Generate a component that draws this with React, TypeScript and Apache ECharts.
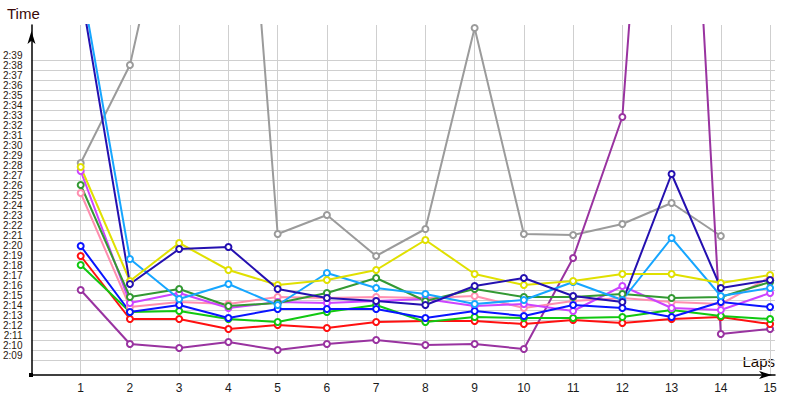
import React, { useEffect, useRef } from "react";
import * as echarts from "echarts";

// Lap numbers on the x axis
const laps = [1, 2, 3, 4, 5, 6, 7, 8, 9, 10, 11, 12, 13, 14, 15];
// Y tick values, in seconds (2:09 ... 2:39)
const timeTicks = [129, 130, 131, 132, 133, 134, 135, 136, 137, 138, 139, 140, 141, 142, 143, 144, 145, 146, 147, 148, 149, 150, 151, 152, 153, 154, 155, 156, 157, 158, 159];

// Lap times in seconds
const grayTimes = [148.7, 158.5, 180.4, 205.0, 141.6, 143.5, 139.4, 142.1, 162.2, 141.6, 141.5, 142.6, 144.7, 141.4, null];
const yellowTimes = [148.3, 136.9, 140.7, 138.0, 136.5, 137.0, 138.0, 141.0, 137.6, 136.5, 136.9, 137.6, 137.6, 136.7, 137.5];
const violetTimes = [147.9, 134.7, 135.7, 134.2, 134.8, 134.7, 134.9, 135.1, 134.4, 134.6, 133.9, 136.4, 134.2, 134.0, 135.7];
const darkGreenTimes = [146.5, 135.3, 136.1, 134.4, 134.7, 135.7, 137.2, 134.9, 136.1, 135.3, 135.3, 135.6, 135.2, 135.3, 136.8];
const pinkTimes = [145.7, 134.3, 134.8, 134.6, 135.3, 135.2, 135.3, 135.2, 135.4, 134.2, 134.9, 135.2, 134.8, 134.6, 137.3];
const navyTimes = [166.0, 136.6, 140.1, 140.3, 136.1, 135.2, 134.9, 134.5, 136.4, 137.2, 135.4, 134.8, 147.6, 136.2, 137.0];
const lightBlueTimes = [167.1, 139.1, 135.1, 136.6, 134.5, 137.7, 136.2, 135.6, 134.6, 135.0, 136.8, 135.0, 141.2, 135.4, 136.2];
const blueTimes = [140.4, 133.8, 134.5, 133.2, 134.1, 134.1, 134.1, 133.2, 133.9, 133.4, 134.5, 134.2, 133.3, 134.8, 134.3];
const greenTimes = [138.5, 133.8, 133.9, 133.1, 132.8, 133.8, 134.5, 132.8, 133.3, 133.2, 133.2, 133.3, 134.0, 133.4, 133.1];
const redTimes = [139.4, 133.1, 133.1, 132.1, 132.5, 132.2, 132.8, 132.9, 132.9, 132.6, 133.0, 132.7, 133.1, 133.3, 132.6];
const purpleTimes = [136.0, 130.6, 130.2, 130.8, 130.0, 130.6, 131.0, 130.5, 130.6, 130.1, 139.2, 153.3, 219.5, 131.6, 132.1];

const seriesDefs = [
  { name: "Gray", color: "#9b9b9b", data: grayTimes },
  { name: "Purple", color: "#9933a0", data: purpleTimes },
  { name: "Red", color: "#ff1010", data: redTimes },
  { name: "Green", color: "#11c811", data: greenTimes },
  { name: "Pink", color: "#ff8fb0", data: pinkTimes },
  { name: "Violet", color: "#cc44ff", data: violetTimes },
  { name: "DarkGreen", color: "#339933", data: darkGreenTimes },
  { name: "Blue", color: "#0a14ff", data: blueTimes },
  { name: "LightBlue", color: "#16a6ff", data: lightBlueTimes },
  { name: "Yellow", color: "#e0e000", data: yellowTimes },
  { name: "Navy", color: "#2410b0", data: navyTimes },
];

const fmt = (v: number) => {
  const m = Math.floor(v / 60);
  const s = Math.round(v - m * 60);
  return m + ":" + String(s).padStart(2, "0");
};

export default function App() {
  const ref = useRef<HTMLDivElement>(null);
  useEffect(() => {
    const chart = echarts.init(ref.current!, null, { renderer: "svg" });
    chart.setOption({
      animation: false,
      backgroundColor: "#ffffff",
      grid: { left: 31, right: 25, top: 25, bottom: 25, containLabel: false },
      xAxis: {
        type: "value",
        min: 0,
        max: 15.1,
        axisLine: {
          show: true,
          lineStyle: { color: "#000", width: 1.5 },
          symbol: ["none", "arrow"],
          symbolSize: [6, 13],
          symbolOffset: [0, -3],
        },
        axisTick: { show: false, customValues: laps },
        axisLabel: {
          customValues: laps,
          color: "#1a1a1a",
          fontSize: 12,
          fontFamily: "Liberation Sans",
          margin: 7,
        },
        splitLine: { show: true, lineStyle: { color: "#cfcfcf", width: 1 } },
      },
      yAxis: {
        type: "value",
        min: 127.5,
        max: 162.5,
        axisLine: {
          show: true,
          lineStyle: { color: "#000", width: 1.5 },
          symbol: ["none", "arrow"],
          symbolSize: [6, 13],
          symbolOffset: [0, -6],
        },
        axisTick: { show: false, customValues: timeTicks },
        axisLabel: {
          customValues: timeTicks,
          formatter: (v: number) => fmt(v),
          color: "#2a2010",
          fontSize: 10,
          fontFamily: "Liberation Sans",
          margin: 9,
          verticalAlign: "bottom",
          lineHeight: 10,
          padding: [0, 0, 0, 0],
          showMinLabel: true,
          showMaxLabel: true,
          hideOverlap: false,
        },
        splitLine: { show: true, lineStyle: { color: "#cfcfcf", width: 1 } },
      },
      graphic: [
        {
          type: "text",
          left: 7,
          top: 6,
          style: { text: "Time", fontSize: 15, fontFamily: "Liberation Sans", fill: "#3a0808" },
        },
        {
          type: "text",
          right: 25,
          top: 354,
          style: { text: "Laps", fontSize: 15, fontFamily: "Liberation Sans", fill: "#1a0a00" },
        },
        {
          type: "rect",
          shape: { x: 29, y: 373, width: 4, height: 4 },
          style: { fill: "#000" },
          z: 100,
        },
      ],
      series: seriesDefs.map((s) => ({
        name: s.name,
        type: "line",
        data: laps.map((lap, i) => [lap, s.data[i]]),
        symbol: "emptyCircle",
        symbolSize: 6,
        showAllSymbol: true,
        connectNulls: false,
        clip: true,
        lineStyle: { color: s.color, width: 2 },
        itemStyle: { color: s.color, borderWidth: 1.3 },
      })),
    });
    return () => chart.dispose();
  }, []);
  return <div ref={ref} style={{ position: "fixed", left: 0, top: 0, width: 800, height: 400 }} />;
}
